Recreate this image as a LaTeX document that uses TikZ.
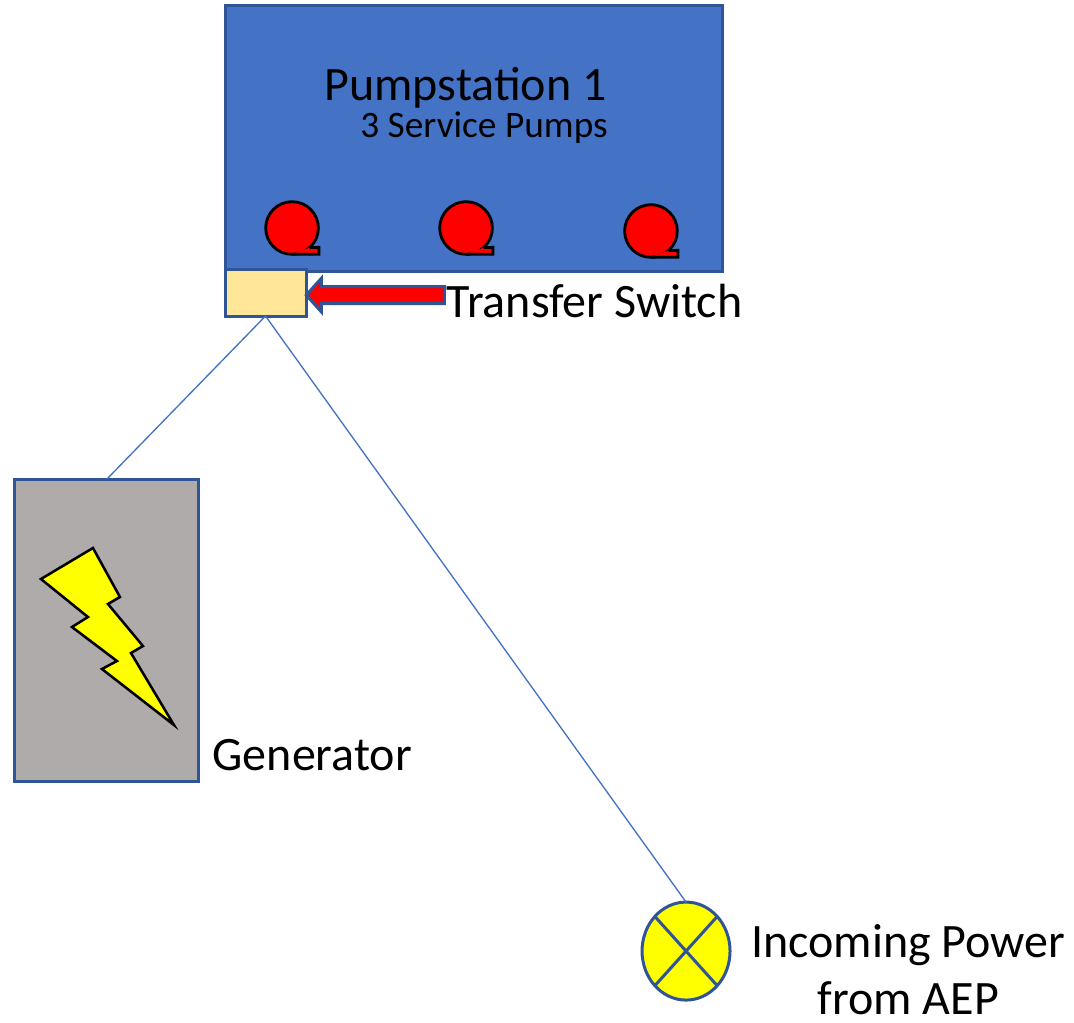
\documentclass[tikz,border=0pt]{standalone}
\usepackage{fontspec}
\setmainfont{Carlito}
\usepackage{xcolor}
\usetikzlibrary{shapes.geometric}
\usetikzlibrary{shapes.arrows}

\definecolor{boxblue}{HTML}{4472C4}
\definecolor{edgeblue}{HTML}{2F5597}
\definecolor{gengray}{HTML}{AFABAB}
\definecolor{switchtan}{HTML}{FFE699}
\definecolor{boltyellow}{HTML}{FFFF00}
\definecolor{pumpred}{HTML}{FF0000}

\tikzset{
  box/.style={draw=edgeblue, shape=rectangle, line width=2.25pt, outer sep=0pt},
  pump/.style={draw=black, shape=circle, fill=pumpred, line width=2.1pt, minimum size=39.5pt, inner sep=0pt, outer sep=0pt},
  tail/.style={draw=black, fill=pumpred, line width=2.1pt, line join=miter},
  wire/.style={draw=boxblue, line width=1pt},
  bigtext/.style={font=\fontsize{36}{42.5}\selectfont, align=center, inner sep=0pt},
  smalltext/.style={font=\fontsize{28}{34}\selectfont, inner sep=0pt}
}

\begin{document}
\begin{tikzpicture}[x=0.75pt, y=-0.75pt]
\useasboundingbox (0,0) rectangle (1074,1022);
\node[box, fill=boxblue, minimum width=372.75pt, minimum height=199.5pt] (stn) at (473.5,138) {};
\node[bigtext, above of=stn, node distance=37.75pt, xshift=-6pt] (stntitle) {Pumpstation 1};
\node[smalltext, above of=stn, node distance=7.75pt, xshift=7.9pt] (stnpumps) {3 Service Pumps};
\node[pump, below of=stn, node distance=67.5pt, xshift=-136.1pt] (pa) {};
\node[pump, below of=stn, node distance=67.5pt, xshift=-5.6pt] (pb) {};
\node[pump, below of=stn, node distance=69.75pt, xshift=133.1pt] (pc) {};
\draw[tail] (pa.south) -- ++(20.25pt,0) -- ++(0,5.25pt) -- (pa.-48);
\draw[tail] (pb.south) -- ++(20.25pt,0) -- ++(0,5.25pt) -- (pb.-48);
\draw[tail] (pc.south) -- ++(20.25pt,0) -- ++(0,5.25pt) -- (pc.-48);
\node[box, fill=switchtan, below of=stn, node distance=115.9pt, xshift=-156pt, minimum width=60.75pt, minimum height=35.25pt] (ts) {};
\node[draw=edgeblue, fill=pumpred, line width=2.25pt, shape=single arrow, shape border rotate=180, inner sep=5.25pt, minimum width=23.25pt, minimum height=103.5pt, single arrow head extend=6.3pt, single arrow tip angle=96, right of=ts, node distance=85.2pt, yshift=-1.9pt] (tsarrow) {};
\node[bigtext, right of=ts, node distance=246.8pt, yshift=-6.4pt] (tslabel) {Transfer Switch};
\node[box, fill=gengray, below of=ts, node distance=253.1pt, xshift=-118.9pt, minimum width=138pt, minimum height=226.5pt] (gen) {};
\draw[draw=black, fill=boltyellow, line width=1.9pt, line join=miter, shift={(gen.center)}] (-14,-82) -- (-66,-51) -- (-19,-13) -- (-35,-3) -- (10,31) -- (-5,39) -- (67,95) -- (24,23) -- (36,16) -- (1,-26) -- (13,-33) -- cycle;
\node[bigtext, right of=gen, node distance=154pt, yshift=-93.75pt] (genlabel) {Generator};
\node[box, shape=ellipse, fill=boltyellow, below of=ts, node distance=493.9pt, xshift=315.4pt, minimum width=66pt, minimum height=73.5pt, inner sep=0pt] (aep) {};
\draw[draw=edgeblue, line width=2.25pt] (aep.132) -- (aep.312);
\draw[draw=edgeblue, line width=2.25pt] (aep.48) -- (aep.228);
\node[bigtext, right of=aep, node distance=166.8pt, yshift=-13.75pt] (aeplabel) {Incoming Power\\from AEP};
\draw[wire] (ts.south) -- (gen.north);
\draw[wire] (ts.south) -- (aep.north);
\end{tikzpicture}
\end{document}
